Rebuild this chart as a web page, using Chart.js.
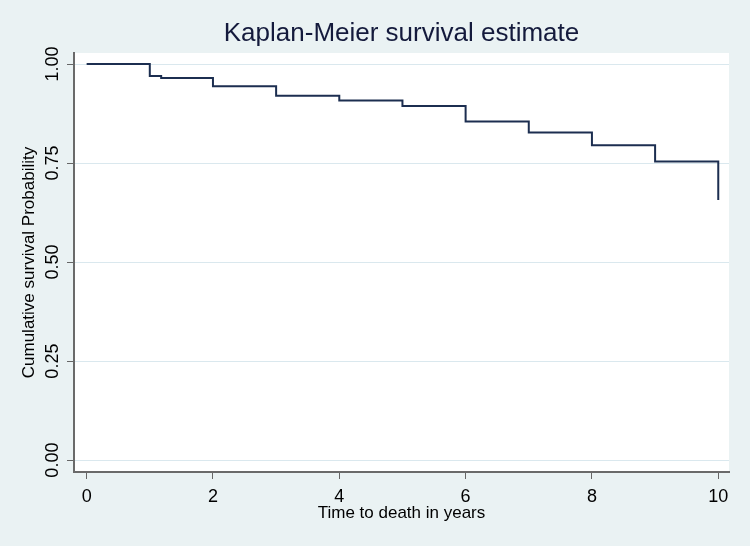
<!DOCTYPE html>
<html>
<head>
<meta charset="utf-8">
<script src="https://cdn.jsdelivr.net/npm/chart.js@4/dist/chart.umd.min.js"></script>
<style>
  body { margin: 0; background: #eaf2f3; }
  canvas { display: block; }
</style>
</head>
<body>
<canvas id="km" width="750" height="546"></canvas>
<script>
// Kaplan-Meier estimate
const times = [0, 1, 1.18, 2, 3, 4, 5, 6, 7, 8, 9, 10];
const survival = [1, 0.970, 0.965, 0.944, 0.920, 0.908, 0.894, 0.855, 0.827, 0.795, 0.754, 0.657];
const xTicks = [0, 2, 4, 6, 8, 10];
const yTicks = [0, 0.25, 0.5, 0.75, 1];
const chartTitle = 'Kaplan-Meier survival estimate';

const font = 'Liberation Sans, Arial, sans-serif';

// outer background, white plot region, title centred over the plot region
const plotBg = {
  id: 'plotBg',
  beforeDraw: chart => {
    const {ctx, chartArea: a} = chart;
    ctx.save();
    ctx.fillStyle = '#eaf2f3';
    ctx.fillRect(0, 0, chart.width, chart.height);
    ctx.fillStyle = '#ffffff';
    ctx.fillRect(a.left, a.top, a.right - a.left, a.bottom - a.top);
    ctx.fillStyle = '#141a3c';
    ctx.font = '26px ' + font;
    ctx.textAlign = 'center';
    ctx.textBaseline = 'middle';
    ctx.fillText(chartTitle, (a.left + a.right) / 2, 34);
    ctx.restore();
  }
};

new Chart(document.getElementById('km'), {
  type: 'line',
  data: {
    datasets: [{
      data: times.map((t, i) => ({x: t, y: survival[i]})),
      borderColor: '#1c2e50',
      borderWidth: 2,
      pointRadius: 0,
      stepped: true,
      fill: false
    }]
  },
  options: {
    responsive: false,
    animation: false,
    layout: {padding: {left: 0, right: 21, top: 53, bottom: 0}},
    plugins: {
      legend: {display: false},
      tooltip: {enabled: false},
      title: {display: false}
    },
    scales: {
      x: {
        type: 'linear',
        min: -0.2,
        max: 10.17,
        afterBuildTicks: s => { s.ticks = xTicks.map(v => ({value: v})); },
        afterFit: s => { s.height = 74; },
        ticks: {color: '#000', font: {family: font, size: 18}, padding: 7, maxRotation: 0},
        grid: {drawOnChartArea: false, drawTicks: true, tickLength: 7, tickColor: '#666'},
        border: {color: '#6a6a6a', width: 2},
        title: {display: true, text: 'Time to death in years', color: '#000',
          font: {family: font, size: 17}, padding: {top: 0, bottom: 22}}
      },
      y: {
        type: 'linear',
        min: -0.03,
        max: 1.028,
        afterBuildTicks: s => { s.ticks = yTicks.map(v => ({value: v})); },
        afterFit: s => { s.width = 74; },
        ticks: {color: '#000', font: {family: font, size: 18}, padding: -4, crossAlign: 'center',
          minRotation: 90, maxRotation: 90, callback: v => v.toFixed(2)},
        grid: {color: '#dae8ee', lineWidth: 1, tickLength: 7, tickColor: '#666'},
        border: {color: '#6a6a6a', width: 2},
        title: {display: true, text: 'Cumulative survival Probability', color: '#000',
          font: {family: font, size: 17}, padding: {top: 19, bottom: 0}}
      }
    }
  },
  plugins: [plotBg]
});
</script>
</body>
</html>
